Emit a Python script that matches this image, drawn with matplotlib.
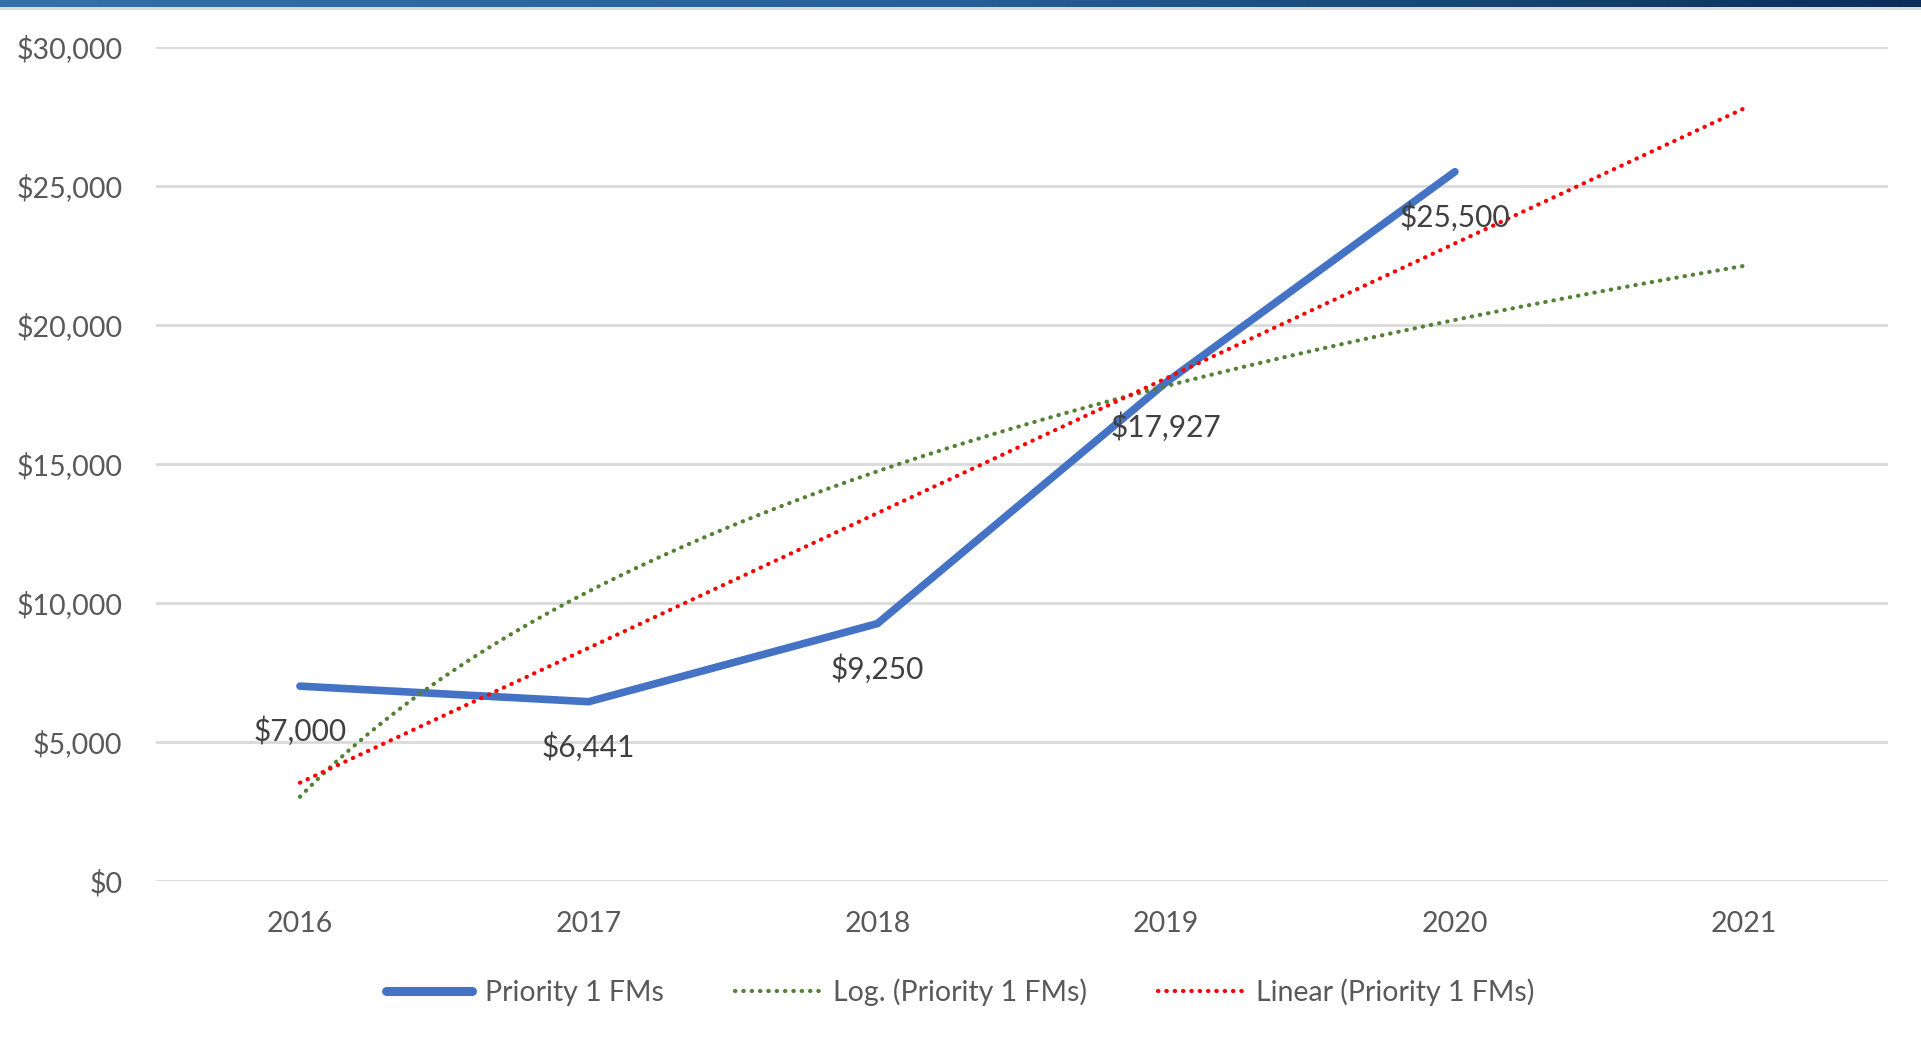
import numpy as np
import matplotlib
matplotlib.use("Agg")
import matplotlib.pyplot as plt
from matplotlib.lines import Line2D
from matplotlib.colors import LinearSegmentedColormap

# ---- data ----
years = ["2016", "2017", "2018", "2019", "2020", "2021"]
values = [7000, 6441, 9250, 17927, 25500]
value_labels = ["$7,000", "$6,441", "$9,250", "$17,927", "$25,500"]
ytick_values = [0, 5000, 10000, 15000, 20000, 25000, 30000]
ytick_labels = ["$0", "$5,000", "$10,000", "$15,000", "$20,000", "$25,000", "$30,000"]
series_name = "Priority 1 FMs"

plt.rcParams['font.family'] = ['Lato', 'DejaVu Sans']

W, H = 1921, 1038
fig = plt.figure(figsize=(W / 100, H / 100), dpi=100)
fig.patch.set_facecolor("white")

# top banner (gradient) and gray stripe
bax = fig.add_axes([0, 1 - 7 / H, 1, 7 / H])
grad = np.linspace(0, 1, 256).reshape(1, -1)
cmap = LinearSegmentedColormap.from_list("b", ["#3270AE", "#25609A", "#0A2E58"])
bax.imshow(grad, aspect="auto", cmap=cmap, extent=[0, 1, 0, 1])
bax.axis("off")
gax = fig.add_axes([0, 1 - 10 / H, 1, 3 / H])
gax.set_facecolor("#DCDCDC")
gax.set_xticks([]); gax.set_yticks([])
for s in gax.spines.values():
    s.set_visible(False)

ax = fig.add_axes([155.6 / W, 1 - 880.8 / H, (1888 - 155.6) / W, (880.8 - 46.6) / H])
ax.set_facecolor("white")

x_data = np.arange(1, len(values) + 1)
x_all = np.arange(1, len(years) + 1)

# trendlines (fitted from data, as Excel does)
lin_coef = np.polyfit(x_data, values, 1)
log_coef = np.polyfit(np.log(x_data), values, 1)
xs = np.linspace(1, len(years), 300)
lin_y = np.polyval(lin_coef, xs)
log_y = np.polyval(log_coef, np.log(xs))

ax.set_xlim(0.5, len(years) + 0.5)
ax.set_ylim(0, 30000)

for yv in ytick_values:
    ax.axhline(yv, color="#D9D9D9", lw=2.0, zorder=1)

dots = (0, (0.1, 1.9))
ax.plot(x_data, values, color="#4472C4", lw=5.5, solid_capstyle="round",
        solid_joinstyle="miter", zorder=3)
ax.plot(xs, log_y, color="#548235", lw=3.0, linestyle=dots,
        dash_capstyle="round", zorder=4)
ax.plot(xs, lin_y, color="#FF0000", lw=3.0, linestyle=dots,
        dash_capstyle="round", zorder=4)

for xv, yv, lab in zip(x_data, values, value_labels):
    ax.annotate(lab, (xv, yv), xytext=(0, -45), textcoords="offset pixels",
                ha="center", va="center", fontsize=21.5, color="#404040", zorder=6)

ax.set_xticks(x_all)
ax.set_xticklabels(years)
ax.set_yticks(ytick_values)
ax.set_yticklabels(ytick_labels)
ax.tick_params(axis="both", length=0, labelsize=20.5, labelcolor="#595959")
ax.tick_params(axis="y", pad=24)
ax.tick_params(axis="x", pad=22)
for s in ax.spines.values():
    s.set_visible(False)

handles = [
    Line2D([], [], color="#4472C4", lw=6.5, solid_capstyle="round"),
    Line2D([], [], color="#548235", lw=3.0, linestyle=dots, dash_capstyle="round"),
    Line2D([], [], color="#FF0000", lw=3.0, linestyle=dots, dash_capstyle="round"),
]
labels = [series_name, f"Log. ({series_name})", f"Linear ({series_name})"]
leg = fig.legend(handles, labels, loc="center", bbox_to_anchor=(0.5, 1 - 992 / H),
                 ncol=3, frameon=False, fontsize=20.5, handlelength=3.0,
                 handletextpad=0.45, columnspacing=2.5)
for t in leg.get_texts():
    t.set_color("#595959")

fig.savefig("out.png", dpi=100, facecolor="white")
